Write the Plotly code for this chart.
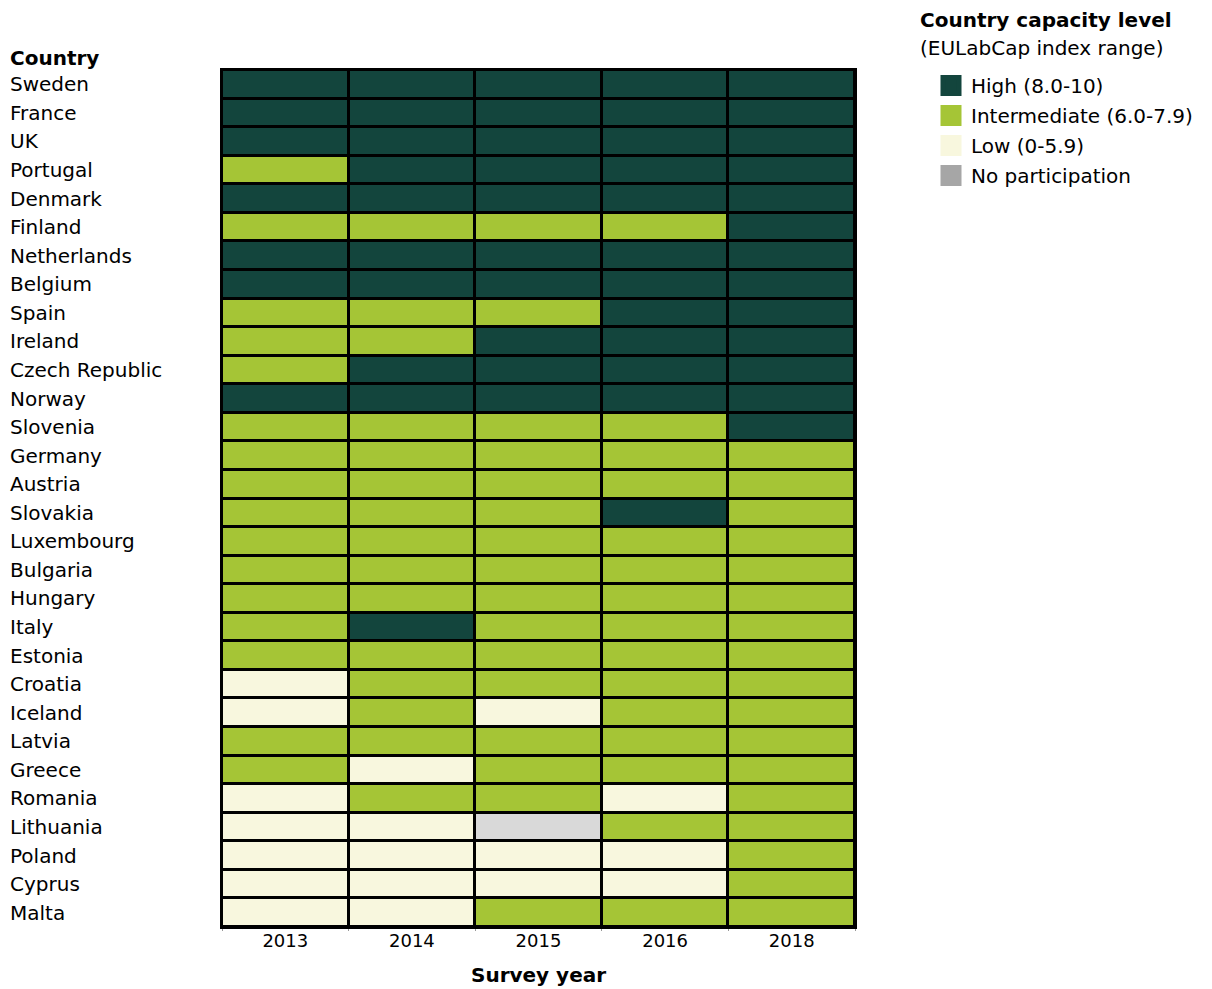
import plotly.graph_objects as go

years = ["2013", "2014", "2015", "2016", "2018"]
countries = ["Sweden", "France", "UK", "Portugal", "Denmark", "Finland", "Netherlands",
             "Belgium", "Spain", "Ireland", "Czech Republic", "Norway", "Slovenia",
             "Germany", "Austria", "Slovakia", "Luxembourg", "Bulgaria", "Hungary",
             "Italy", "Estonia", "Croatia", "Iceland", "Latvia", "Greece", "Romania",
             "Lithuania", "Poland", "Cyprus", "Malta"]

# level codes: H=High, I=Intermediate, L=Low, N=No participation
levels = [
    "HHHHH",  # Sweden
    "HHHHH",  # France
    "HHHHH",  # UK
    "IHHHH",  # Portugal
    "HHHHH",  # Denmark
    "IIIIH",  # Finland
    "HHHHH",  # Netherlands
    "HHHHH",  # Belgium
    "IIIHH",  # Spain
    "IIHHH",  # Ireland
    "IHHHH",  # Czech Republic
    "HHHHH",  # Norway
    "IIIIH",  # Slovenia
    "IIIII",  # Germany
    "IIIII",  # Austria
    "IIIHI",  # Slovakia
    "IIIII",  # Luxembourg
    "IIIII",  # Bulgaria
    "IIIII",  # Hungary
    "IHIII",  # Italy
    "IIIII",  # Estonia
    "LIIII",  # Croatia
    "LILII",  # Iceland
    "IIIII",  # Latvia
    "ILIII",  # Greece
    "LIILI",  # Romania
    "LLNII",  # Lithuania
    "LLLLI",  # Poland
    "LLLLI",  # Cyprus
    "LLIII",  # Malta
]

code_value = {"N": 0, "L": 1, "I": 2, "H": 3}
legend_labels = ["High (8.0-10)", "Intermediate (6.0-7.9)", "Low (0-5.9)", "No participation"]
legend_colors = ["#13453d", "#a5c536", "#f8f7de", "#a6a6a6"]

C_DARK = "#13453d"
C_GREEN = "#a5c536"
C_CREAM = "#f8f7de"
C_GREY = "#d9d9d9"

z = [[code_value[c] for c in row] for row in levels]

colorscale = [
    [0.0, C_GREY], [0.25, C_GREY],
    [0.25, C_CREAM], [0.5, C_CREAM],
    [0.5, C_GREEN], [0.75, C_GREEN],
    [0.75, C_DARK], [1.0, C_DARK],
]

FONT = "DejaVu Sans"

# page has an 8px body margin; figure coords = page coords - 8
L, T, PW, PH = 214, 62, 633, 857
W, H = 1204, 981
R = W - L - PW
B = H - T - PH

def px_x(page_x):
    return (page_x - 8 - L) / PW

def px_y(page_y):
    return (T + PH - (page_y - 8)) / PH

fig = go.Figure()
fig.add_trace(go.Heatmap(
    z=z, x=years, y=countries,
    colorscale=colorscale, zmin=-0.5, zmax=3.5,
    showscale=False, xgap=3, ygap=3,
    hoverinfo="x+y",
))

for i, (lab, col) in enumerate(zip(legend_labels, legend_colors)):
    fig.add_trace(go.Scatter(
        x=[None], y=[None], mode="markers", name=lab,
        legendgroup=f"g{i}",
        marker=dict(symbol="square", size=16, color=col,
                    line=dict(color=col, width=6)),
    ))

annotations = []
for c in countries:
    annotations.append(dict(
        x=px_x(8), xref="paper", y=c, yref="y",
        text=c, showarrow=False, xanchor="left", yanchor="middle",
        font=dict(family=FONT, size=20, color="#000"),
    ))
annotations.append(dict(
    x=px_x(8), xref="paper", y=px_y(58), yref="paper",
    text="<b>Country</b>", showarrow=False, xanchor="left", yanchor="middle",
    font=dict(family=FONT, size=20, color="#000"),
))
annotations.append(dict(
    x=px_x(918), xref="paper", y=px_y(20), yref="paper",
    text="<b>Country capacity level</b>", showarrow=False, xanchor="left", yanchor="middle",
    font=dict(family=FONT, size=20, color="#000"),
))
annotations.append(dict(
    x=px_x(918), xref="paper", y=px_y(48), yref="paper",
    text="(EULabCap index range)", showarrow=False, xanchor="left", yanchor="middle",
    font=dict(family=FONT, size=20, color="#000"),
))
annotations.append(dict(
    x=0.5, xref="paper", y=px_y(975), yref="paper",
    text="<b>Survey year</b>", showarrow=False, xanchor="center", yanchor="middle",
    font=dict(family=FONT, size=20, color="#000"),
))

fig.update_layout(
    width=W, height=H,
    margin=dict(l=L, r=R, t=T, b=B, autoexpand=False),
    paper_bgcolor="white", plot_bgcolor="black",
    font=dict(family=FONT, size=20, color="#000"),
    showlegend=True,
    legend=dict(
        x=px_x(931), xanchor="left", y=px_y(66), yanchor="top",
        font=dict(family=FONT, size=20, color="#000"),
        tracegroupgap=1, bgcolor="rgba(0,0,0,0)",
    ),
    annotations=annotations,
    xaxis=dict(
        type="category", showgrid=False, zeroline=False, automargin=False,
        showline=True, linecolor="black", linewidth=2, mirror=True,
        ticks="outside", tickson="boundaries", ticklen=2, tickcolor="#999",
        ticklabelstandoff=-4,
        tickfont=dict(family=FONT, size=18, color="#000"),
        fixedrange=True,
    ),
    yaxis=dict(
        type="category", autorange="reversed", showgrid=False, zeroline=False,
        automargin=False,
        showline=True, linecolor="black", linewidth=2, mirror=True,
        showticklabels=False, ticks="",
        fixedrange=True,
    ),
)

fig.write_html("out.html")
